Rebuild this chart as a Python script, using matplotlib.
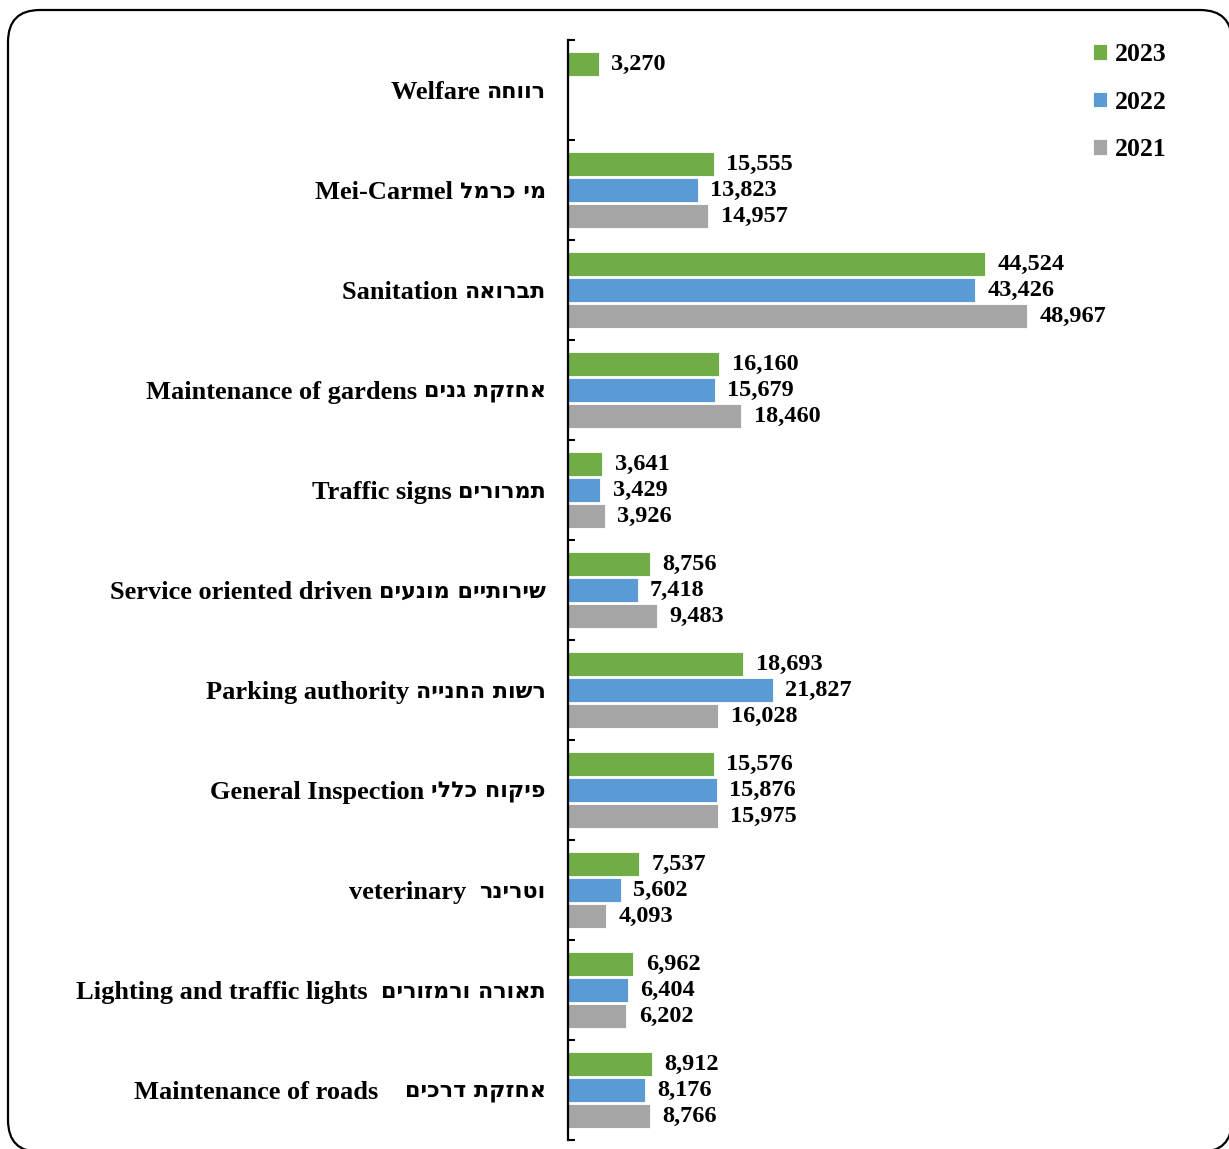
import matplotlib
matplotlib.use('Agg')
import matplotlib.pyplot as plt
from matplotlib.patches import FancyBboxPatch
import numpy as np

english = ['Welfare', 'Mei-Carmel', 'Sanitation', 'Maintenance of gardens', 'Traffic signs',
           'Service oriented driven', 'Parking authority', 'General Inspection',
           'veterinary ', 'Lighting and traffic lights ', 'Maintenance of roads   ']
hebrew = ['רווחה', 'מי כרמל', 'תברואה', 'אחזקת גנים', 'תמרורים', 'שירותיים מונעים',
          'רשות החנייה', 'פיקוח כללי', 'וטרינר', 'תאורה ורמזורים', 'אחזקת דרכים']
v2023 = [3270, 15555, 44524, 16160, 3641, 8756, 18693, 15576, 7537, 6962, 8912]
v2022 = [None, 13823, 43426, 15679, 3429, 7418, 21827, 15876, 5602, 6404, 8176]
v2021 = [None, 14957, 48967, 18460, 3926, 9483, 16028, 15975, 4093, 6202, 8766]
years = ['2023', '2022', '2021']
colors = ['#70AD47', '#5B9BD5', '#A5A5A5']

plt.rcParams['font.family'] = ['Liberation Serif', 'DejaVu Serif']
plt.rcParams['font.weight'] = 'bold'

fig = plt.figure(figsize=(12.29, 11.49), dpi=100)

# rounded frame round the whole chart
bg = fig.add_axes([0, 0, 1, 1])
bg.set_xlim(0, 1229)
bg.set_ylim(1149, 0)
bg.axis('off')
bg.add_patch(FancyBboxPatch((8, 10), 1224, 1142, boxstyle='round,pad=0,rounding_size=32',
                            fc='white', ec='black', lw=1.6))

ax = fig.add_axes([568/1229, 1-1140/1149, (1180-568)/1229, 1100/1149])
ax.patch.set_alpha(0)

y = np.arange(len(english))
h = 0.24
off = [-0.26, 0, 0.26]
series = [v2023, v2022, v2021]
for s, vals in enumerate(series):
    arr = np.array([np.nan if v is None else v for v in vals], dtype=float)
    ax.barh(y + off[s], arr, height=h, color=colors[s], edgecolor='white', lw=0.6, label=years[s])
    for i, v in enumerate(vals):
        if v is None:
            continue
        ax.annotate(f'{v:,}', (v, y[i] + off[s]), xytext=(9, 0), textcoords='offset points',
                    va='center', ha='left', fontsize=17.5, fontweight='bold')

ax.set_xlim(0, 65300)
ax.set_ylim(len(english) - 0.5, -0.5)
ax.set_xticks([])
ax.set_yticks([])
ax.set_yticks(np.arange(-0.5, len(english)), minor=True)
ax.tick_params(axis='y', which='minor', direction='in', length=5, width=1.5)
for sp in ['top', 'right', 'bottom']:
    ax.spines[sp].set_visible(False)
ax.spines['left'].set_linewidth(1.6)

# category labels: Hebrew (sans bold) on the right, English (serif bold) to its left
renderer = fig.canvas.get_renderer()
trans = ax.get_yaxis_transform()
for i in y:
    th = ax.annotate(hebrew[i][::-1], (0, i), xycoords=trans, xytext=(-16, -1.5),
                     textcoords='offset points', ha='right', va='center',
                     fontsize=16, fontweight='bold', family=['DejaVu Sans'])
    wpt = th.get_window_extent(renderer).width * 72 / fig.dpi
    ax.annotate(english[i] + ' ', (0, i), xycoords=trans, xytext=(-16 - wpt, -2),
                textcoords='offset points', ha='right', va='center',
                fontsize=19, fontweight='bold')

ax.legend(loc='upper right', bbox_to_anchor=(1190/1229, 1-20/1149), bbox_transform=fig.transFigure,
          frameon=False, handlelength=0.55, handleheight=0.55, handletextpad=0.3,
          labelspacing=0.95, prop={'weight': 'bold', 'size': 18.5})

fig.savefig('out.png', dpi=100)
